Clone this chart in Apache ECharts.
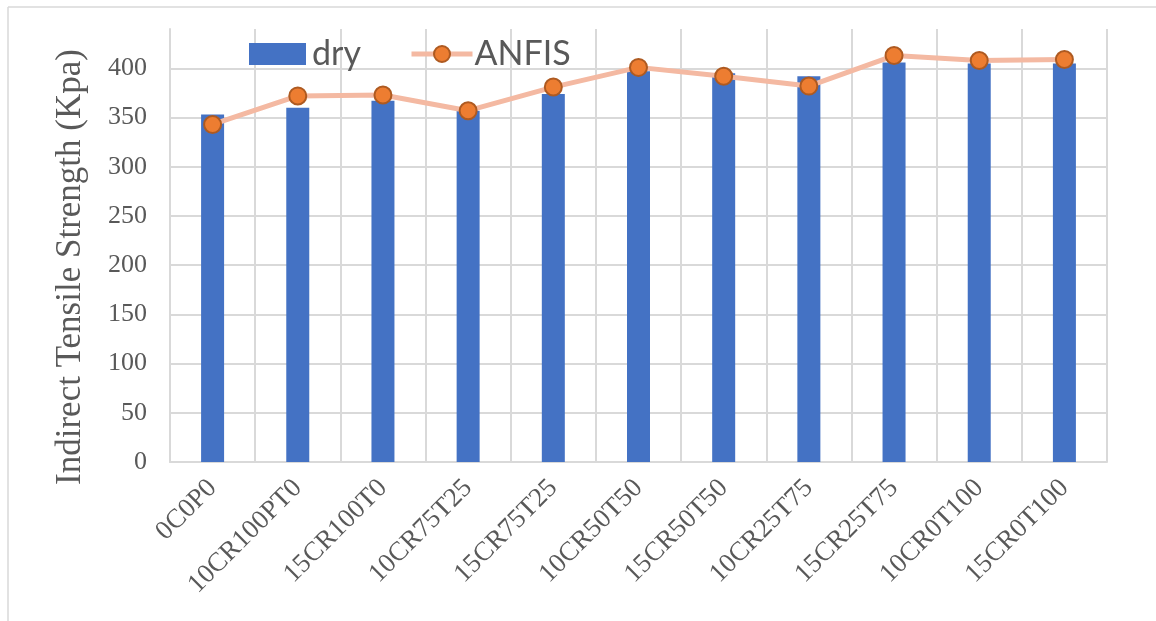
<!DOCTYPE html>
<html>
<head>
<meta charset="utf-8">
<script src="https://cdn.jsdelivr.net/npm/echarts@6/dist/echarts.min.js"></script>
<style>
  html, body { margin: 0; padding: 0; background: #fff; }
  #chart { width: 1156px; height: 621px; }
</style>
</head>
<body>
<div id="chart"></div>
<script>
// categories and values
const categories = ['0C0P0', '10CR100PT0', '15CR100T0', '10CR75T25', '15CR75T25', '10CR50T50',
  '15CR50T50', '10CR25T75', '15CR25T75', '10CR0T100', '15CR0T100'];
const dry = [353, 360, 367, 357, 374, 397, 395, 392, 406, 405, 405];
const anfis = [343, 372, 373, 357, 381, 401, 392, 382, 413, 408, 409];

const serif = '"Liberation Serif", "Times New Roman", serif';
const grid = '#d9d9d9';

const chart = echarts.init(document.getElementById('chart'));

chart.setOption({
  animation: false,
  backgroundColor: '#fff',
  graphic: [
    { type: 'line', shape: { x1: 8, y1: 7, x2: 1156, y2: 7 }, style: { stroke: grid, lineWidth: 1.5 } },
    { type: 'line', shape: { x1: 8, y1: 7, x2: 8, y2: 621 }, style: { stroke: grid, lineWidth: 1.5 } },
    {
      // axis title, drawn by hand so it is not cut short
      type: 'text', x: 71, y: 267, rotation: Math.PI / 2,
      style: {
        text: 'Indirect Tensile Strength (Kpa)',
        font: '35px ' + serif, fill: '#595959',
        align: 'center', verticalAlign: 'middle'
      }
    }
  ],
  grid: { left: 170, right: 49, top: 29, bottom: 159 },
  legend: [
    {
      data: [{ name: 'dry', icon: 'rect' }], left: 249, top: 37, padding: 0,
      itemWidth: 57, itemHeight: 22, itemGap: 0,
      textStyle: { fontFamily: 'Lato', fontSize: 34, color: '#595959', padding: [0, 0, 0, 1] }
    },
    {
      data: ['ANFIS'], left: 409, top: 37, padding: 0,
      itemWidth: 61, itemHeight: 20, itemGap: 0,
      lineStyle: { width: 5, color: '#f4b9a2' },
      textStyle: { fontFamily: 'Lato', fontSize: 34, color: '#595959', padding: [0, 0, 0, -3] }
    }
  ],
  xAxis: {
    type: 'category',
    data: categories,
    axisLine: { lineStyle: { color: grid, width: 2 } },
    axisTick: { show: false },
    splitLine: { show: true, interval: 0, lineStyle: { color: grid, width: 2 } },
    axisLabel: {
      interval: 0, rotate: 45, margin: 22,
      fontFamily: serif, fontSize: 27, color: '#595959'
    }
  },
  yAxis: {
    type: 'value',
    min: 0, max: 440, interval: 50,
    axisLine: { show: true, lineStyle: { color: grid, width: 2 } },
    axisTick: { show: false },
    splitLine: { show: true, showMaxLine: false, lineStyle: { color: grid, width: 2 } },
    axisLabel: {
      showMaxLabel: false, margin: 23,
      fontFamily: serif, fontSize: 26, color: '#595959'
    }
  },
  series: [
    {
      name: 'dry',
      type: 'bar',
      data: dry,
      barWidth: 23,
      itemStyle: { color: '#4472c4' }
    },
    {
      name: 'ANFIS',
      type: 'line',
      data: anfis,
      symbol: 'circle',
      symbolSize: 17,
      lineStyle: { color: '#f4b9a2', width: 5 },
      itemStyle: { color: '#ed7d31', borderColor: '#ae5a21', borderWidth: 2 },
      z: 3
    }
  ]
});
</script>
</body>
</html>
